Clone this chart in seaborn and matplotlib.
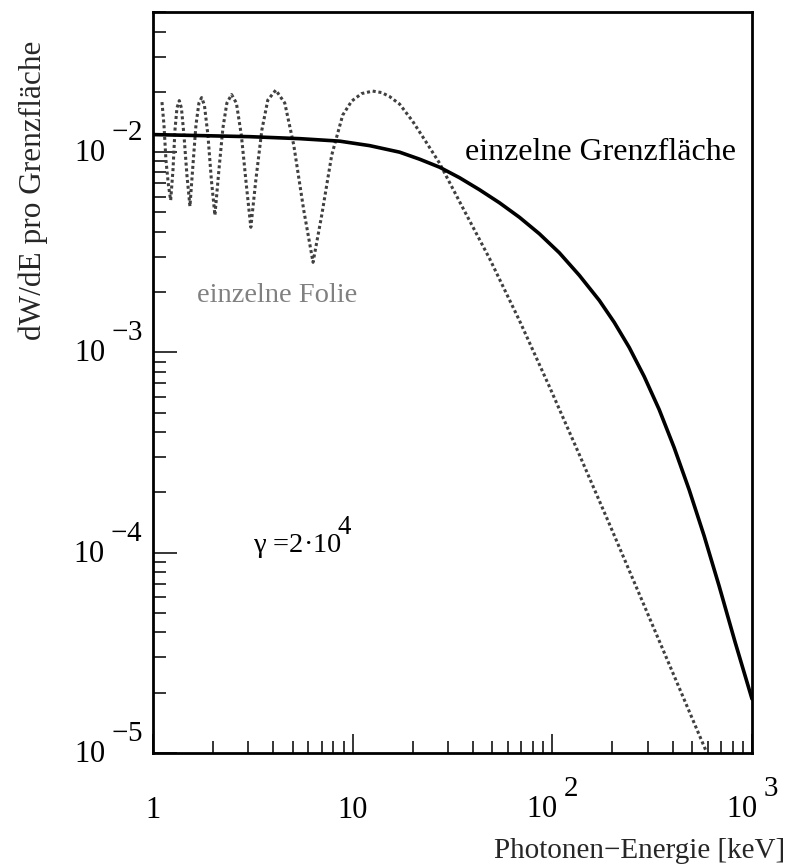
import numpy as np
import pandas as pd
import matplotlib
matplotlib.use('Agg')
import matplotlib.pyplot as plt
import matplotlib.ticker as mticker
import matplotlib.transforms as mtransforms
import seaborn as sns

# ROOT-like exponents: nearly full size, raised high, with a gap
try:
    import matplotlib._mathtext as _mt
    _mt.SHRINK_FACTOR = 0.95
    _mt.FontConstantsBase.sup1 = 1.4
    _mt.FontConstantsBase.delta = 0.5
except Exception:
    pass

# ---------------- data ----------------
energy_interface = [1.0, 3.055, 5.433, 8.610, 12.16, 17.18, 21.63, 27.23, 34.28,
                    43.15, 54.33, 68.39, 86.10, 108.4, 136.5, 171.8, 204.2,
                    242.7, 288.4, 342.8, 407.4, 484.2, 575.4, 683.9, 822.2,
                    1000.0]
dwde_interface = [0.01224, 0.01195, 0.01168, 0.01135, 0.01078, 0.01000, 0.009226,
                  0.008414, 0.007456, 0.006494, 0.005590, 0.004732, 0.003913,
                  0.003145, 0.002427, 0.001820, 0.001413, 0.001059, 0.0007586,
                  0.0005188, 0.0003350, 0.0002065, 0.0001216, 6.839e-5,
                  3.589e-5, 1.862e-5]

energy_foil = [1.109, 1.135, 1.161, 1.195, 1.226, 1.259, 1.288, 1.318, 1.354,
               1.388, 1.429, 1.479, 1.531, 1.585, 1.641, 1.698, 1.752,
               1.809, 1.884, 1.961, 2.042, 2.138, 2.239, 2.344, 2.475,
               2.616, 2.770, 2.935, 3.090, 3.273, 3.508, 3.758, 4.121,
               4.571, 5.070, 5.689, 6.332, 6.998, 7.852, 8.913, 9.886, 11.09,
               12.59, 13.96, 15.31, 17.18, 19.95, 23.17, 27.23, 35.48, 48.42,
               68.39, 96.61, 136.5, 192.8, 281.8, 407.4, 588.8]
dwde_foil = [0.01778, 0.01365, 0.00912, 0.00684, 0.005754, 0.008128, 0.01288,
             0.01660, 0.01809,
             0.01660, 0.01216, 0.007674, 0.005370, 0.008610, 0.01365, 0.01758,
             0.01873,
             0.01718, 0.01216, 0.007244, 0.004842, 0.008128, 0.01318, 0.01758,
             0.01939,
             0.01758, 0.01216, 0.00684, 0.004217, 0.007244, 0.01288, 0.01820,
             0.02042,
             0.01758, 0.01084, 0.005129, 0.002818, 0.004842, 0.00966, 0.01531,
             0.01799, 0.01961, 0.02018,
             0.01984, 0.01895, 0.01738, 0.01429, 0.01135, 0.00881, 0.005309,
             0.002951, 0.001445, 0.0006761, 0.0003090, 0.0001396, 5.754e-5,
             2.427e-5, 1.023e-5]

x_ticks = [1, 10, 100, 1000]
x_tick_labels = ['1', '10', r'$10^{2}$', r'$10^{3}$']
y_ticks = [1e-5, 1e-4, 1e-3, 1e-2]
y_tick_labels = [r'$10^{-5}$', r'$10^{-4}$', r'$10^{-3}$', r'$10^{-2}$']

x_label = 'Photonen\u2212Energie [keV]'
y_label = 'dW/dE pro Grenzfläche'
label_interface = 'einzelne Grenzfläche'
label_foil = 'einzelne Folie'
gamma_text = r'γ =2·10$^{\!\!\!4}$'

df_interface = pd.DataFrame({'E': energy_interface, 'W': dwde_interface})
df_foil = pd.DataFrame({'E': energy_foil, 'W': dwde_foil})

# ---------------- style ----------------
sns.set_theme(style='white')
plt.rcParams['font.family'] = ['Liberation Serif', 'DejaVu Serif']
plt.rcParams['mathtext.fontset'] = 'custom'
plt.rcParams['mathtext.rm'] = 'Liberation Serif'
plt.rcParams['mathtext.it'] = 'Liberation Serif:italic'
plt.rcParams['mathtext.bf'] = 'Liberation Serif:bold'
plt.rcParams['axes.unicode_minus'] = True

FS = 22

fig = plt.figure(figsize=(7.87, 8.66), dpi=100)
ax = fig.add_axes([153 / 787, 113 / 866, 599 / 787, 741 / 866])

sns.lineplot(data=df_foil, x='E', y='W', ax=ax, color='0.25', linewidth=2.2,
             linestyle=(0, (1.0, 0.9)), sort=False, estimator=None)
sns.lineplot(data=df_interface, x='E', y='W', ax=ax, color='black',
             linewidth=2.6, sort=False, estimator=None)

ax.set_xscale('log')
ax.set_yscale('log')
ax.set_xlim(1, 1000)
ax.set_ylim(1e-5, 0.0501)

for s in ax.spines.values():
    s.set_color('black')
    s.set_linewidth(2.0)

ax.set_xticks(x_ticks)
ax.set_xticklabels(x_tick_labels)
ax.set_yticks(y_ticks)
ax.set_yticklabels(y_tick_labels)
ax.xaxis.set_minor_locator(mticker.LogLocator(base=10, subs=np.arange(2, 10), numticks=20))
ax.yaxis.set_minor_locator(mticker.LogLocator(base=10, subs=np.arange(2, 10), numticks=20))
ax.xaxis.set_minor_formatter(mticker.NullFormatter())
ax.yaxis.set_minor_formatter(mticker.NullFormatter())

ax.tick_params(which='both', direction='in', top=False, right=False,
               left=True, bottom=True, color='black', width=1.1,
               labelsize=FS, labelcolor='black')
ax.tick_params(axis='x', which='major', length=14, pad=47)
ax.tick_params(axis='x', which='minor', length=9)
ax.tick_params(axis='y', which='major', length=17, pad=7)
ax.tick_params(axis='y', which='minor', length=9)

for lbl in ax.get_xticklabels():
    lbl.set_va('baseline')
for lbl in ax.get_yticklabels():
    lbl.set_va('baseline')
    lbl.set_transform(lbl.get_transform() +
                      mtransforms.ScaledTranslation(0, -10 / 100, fig.dpi_scale_trans))

ax.set_xlabel(x_label, fontsize=21, loc='right')
ax.xaxis.set_label_coords(1.055, -0.115)
ax.set_ylabel(y_label, fontsize=22.5, loc='top')
ax.yaxis.set_label_coords(-0.175, 0.962)

ax.text(0.521, 0.800, label_interface, transform=ax.transAxes, fontsize=23,
        ha='left', va='baseline', color='black')
ax.text(0.0735, 0.6086, label_foil, transform=ax.transAxes, fontsize=20.5,
        ha='left', va='baseline', color='0.5')
ax.text(0.167, 0.27, gamma_text, transform=ax.transAxes, fontsize=20.5,
        ha='left', va='baseline', color='black')

fig.savefig('out.png', dpi=100)
